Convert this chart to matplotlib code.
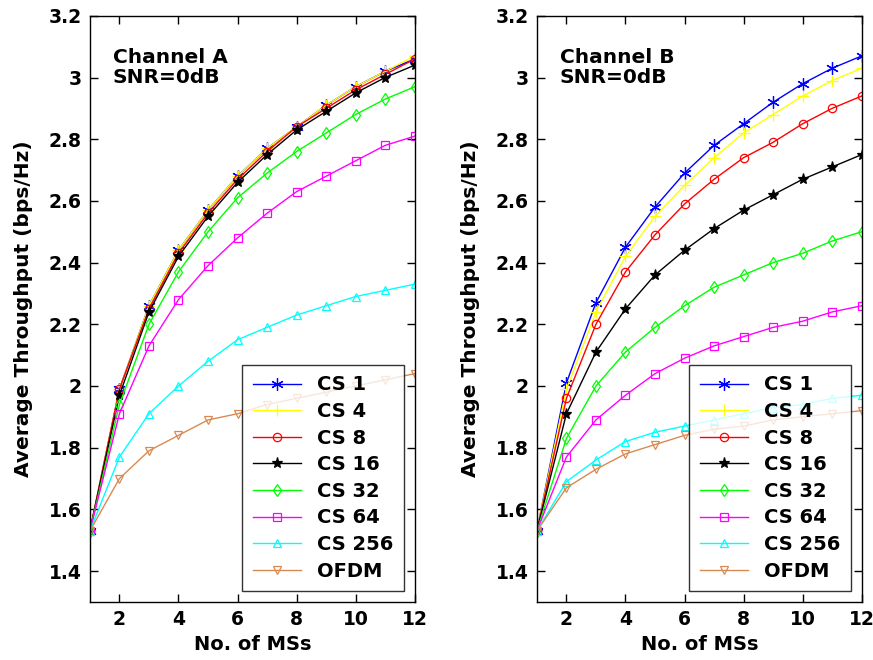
import numpy as np
import matplotlib
matplotlib.use('Agg')
import matplotlib.pyplot as plt

plt.rcParams['font.family'] = ['DejaVu Sans']
plt.rcParams['font.weight'] = 'bold'

ms = np.arange(1, 13)

labels = ['CS 1', 'CS 4', 'CS 8', 'CS 16', 'CS 32', 'CS 64', 'CS 256', 'OFDM']
colors = ['#0000ff', '#ffff00', '#ff0000', '#000000', '#00ff00', '#ff00ff', '#00ffff', '#d98a52']
markers = [(6, 2, 0), '+', 'o', '*', 'd', 's', '^', 'v']

# Channel A
chA_cs1 = [1.53, 1.99, 2.26, 2.44, 2.57, 2.68, 2.77, 2.84, 2.91, 2.97, 3.02, 3.06]
chA_cs4 = [1.53, 1.99, 2.26, 2.44, 2.57, 2.68, 2.77, 2.84, 2.91, 2.97, 3.02, 3.07]
chA_cs8 = [1.53, 1.99, 2.25, 2.43, 2.56, 2.67, 2.76, 2.84, 2.90, 2.96, 3.01, 3.06]
chA_cs16 = [1.53, 1.97, 2.24, 2.42, 2.55, 2.66, 2.75, 2.83, 2.89, 2.95, 3.00, 3.04]
chA_cs32 = [1.53, 1.94, 2.20, 2.37, 2.50, 2.61, 2.69, 2.76, 2.82, 2.88, 2.93, 2.97]
chA_cs64 = [1.53, 1.91, 2.13, 2.28, 2.39, 2.48, 2.56, 2.63, 2.68, 2.73, 2.78, 2.81]
chA_cs256 = [1.53, 1.77, 1.91, 2.00, 2.08, 2.15, 2.19, 2.23, 2.26, 2.29, 2.31, 2.33]
chA_ofdm = [1.53, 1.70, 1.79, 1.84, 1.89, 1.91, 1.94, 1.96, 1.98, 2.00, 2.02, 2.04]

# Channel B
chB_cs1 = [1.53, 2.01, 2.27, 2.45, 2.58, 2.69, 2.78, 2.85, 2.92, 2.98, 3.03, 3.07]
chB_cs4 = [1.53, 1.99, 2.24, 2.42, 2.55, 2.65, 2.74, 2.82, 2.88, 2.94, 2.99, 3.03]
chB_cs8 = [1.53, 1.96, 2.20, 2.37, 2.49, 2.59, 2.67, 2.74, 2.79, 2.85, 2.90, 2.94]
chB_cs16 = [1.53, 1.91, 2.11, 2.25, 2.36, 2.44, 2.51, 2.57, 2.62, 2.67, 2.71, 2.75]
chB_cs32 = [1.53, 1.83, 2.00, 2.11, 2.19, 2.26, 2.32, 2.36, 2.40, 2.43, 2.47, 2.50]
chB_cs64 = [1.53, 1.77, 1.89, 1.97, 2.04, 2.09, 2.13, 2.16, 2.19, 2.21, 2.24, 2.26]
chB_cs256 = [1.53, 1.69, 1.76, 1.82, 1.85, 1.87, 1.89, 1.91, 1.93, 1.94, 1.96, 1.97]
chB_ofdm = [1.53, 1.67, 1.73, 1.78, 1.81, 1.84, 1.86, 1.87, 1.89, 1.90, 1.91, 1.92]

chA = [chA_cs1, chA_cs4, chA_cs8, chA_cs16, chA_cs32, chA_cs64, chA_cs256, chA_ofdm]
chB = [chB_cs1, chB_cs4, chB_cs8, chB_cs16, chB_cs32, chB_cs64, chB_cs256, chB_ofdm]

fig = plt.figure(figsize=(8.73, 6.6), dpi=100)
ax1 = fig.add_axes([0.103, 0.088, 0.372, 0.888])
ax2 = fig.add_axes([0.615, 0.088, 0.372, 0.888])

for ax, data, name in [(ax1, chA, 'Channel A'), (ax2, chB, 'Channel B')]:
    for i in range(len(labels)):
        mk = markers[i]
        size = 6
        if i in (0, 1):
            size = 9
        elif i == 3:
            size = 8
        ax.plot(ms, data[i], color=colors[i], marker=mk, markersize=size,
                markerfacecolor=colors[i] if i == 3 else 'none',
                markeredgewidth=0.9, linewidth=1, label=labels[i])
    ax.set_xlim(1, 12)
    ax.set_ylim(1.3, 3.2)
    ax.set_xticks([2, 4, 6, 8, 10, 12])
    ax.set_yticks(np.arange(1.4, 3.21, 0.2))
    ax.set_yticklabels(['1.4', '1.6', '1.8', '2', '2.2', '2.4', '2.6', '2.8', '3', '3.2'])
    ax.tick_params(direction='in', top=True, right=True, length=6, width=1,
                   labelsize=13.5, pad=6)
    for lab in ax.get_xticklabels() + ax.get_yticklabels():
        lab.set_fontweight('bold')
    for sp in ax.spines.values():
        sp.set_linewidth(1)
    ax.set_xlabel('No. of MSs', fontsize=14, fontweight='bold', labelpad=4)
    ax.set_ylabel('Average Throughput (bps/Hz)', fontsize=14.5, fontweight='bold', labelpad=11)
    ax.text(0.07, 0.945, name + '\nSNR=0dB', transform=ax.transAxes, fontsize=14.5,
            fontweight='bold', va='top', ha='left', linespacing=1.05)
    leg = ax.legend(loc='lower right', fontsize=14, frameon=True, fancybox=False,
                    edgecolor='black', borderpad=0.55, labelspacing=0.39,
                    handlelength=2.5, handletextpad=0.8, borderaxespad=0.55)
    leg.get_frame().set_linewidth(1)
    for t in leg.get_texts():
        t.set_fontweight('bold')

plt.savefig('out.png', dpi=100)
